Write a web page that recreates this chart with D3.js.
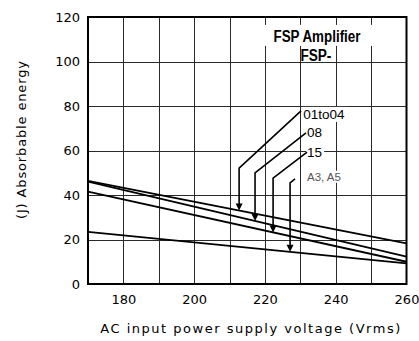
<!DOCTYPE html>
<html lang="en">
<head>
<meta charset="utf-8">
<title>Absorbable energy vs AC input voltage</title>
<script src="https://d3js.org/d3.v7.min.js"></script>
<style>
body { margin: 0; background: #fff; }
</style>
</head>
<body>
<script>
// data
const voltages = [170, 260];
const seriesNames = ['01to04', '08', '15', 'A3, A5'];
const energy0104 = [46.4, 18.3];
const energy08 = [46.0, 12.3];
const energy15 = [41.5, 10.0];
const energyA3A5 = [23.4, 9.3];
const xTickLabels = [180, 200, 220, 240, 260];
const yTickLabels = [0, 20, 40, 60, 80, 100, 120];
// annotation arrows, in volts / joules
const arrowStart = [[230.2, 77.8], [231.6, 67.9], [231.9, 59.3], [228.5, 47.2]];
const arrowKnee = [[212.7, 52.1], [217.2, 49.9], [222.3, 47.6], [227.1, 45.4]];
const labelAt = [[230.8, 74.2], [231.9, 65.9], [231.9, 56.9], [231.9, 46.4]];

const allEnergy = [energy0104, energy08, energy15, energyA3A5];

const width = 419, height = 341;
const plotLeft = 88, plotRight = 406.5, plotTop = 17, plotBottom = 284;

const x = d3.scaleLinear().domain([170, 260]).range([plotLeft, plotRight]);
const y = d3.scaleLinear().domain([0, 120]).range([plotBottom, plotTop]);

const svg = d3.select('body').append('svg')
    .attr('width', width).attr('height', height)
    .style('font-family', 'DejaVu Sans, sans-serif');

svg.append('rect').attr('width', width).attr('height', height).attr('fill', '#fff');

// grid lines every 10 V and 20 J
const gridX = d3.axisBottom(x).tickValues(d3.range(180, 260, 10))
    .tickSize(-(plotBottom - plotTop)).tickFormat('');
svg.append('g').attr('transform', `translate(0,${plotBottom})`).call(gridX)
    .call(g => g.select('.domain').remove())
    .selectAll('line').attr('stroke', '#2a2a2a').attr('shape-rendering', 'crispEdges');

const gridY = d3.axisLeft(y).tickValues(d3.range(20, 120, 20))
    .tickSize(-(plotRight - plotLeft)).tickFormat('');
svg.append('g').attr('transform', `translate(${plotLeft},0)`).call(gridY)
    .call(g => g.select('.domain').remove())
    .selectAll('line').attr('stroke', '#2a2a2a').attr('shape-rendering', 'crispEdges');

// tick labels
const xAxis = d3.axisBottom(x).tickValues(xTickLabels).tickSize(0).tickPadding(11);
svg.append('g').attr('transform', `translate(0,${plotBottom})`).call(xAxis)
    .call(g => g.select('.domain').remove())
    .selectAll('text').attr('font-size', 13).attr('font-family', 'DejaVu Sans').attr('fill', '#000');

const yAxis = d3.axisLeft(y).tickValues(yTickLabels).tickSize(0).tickPadding(8);
svg.append('g').attr('transform', `translate(${plotLeft},0)`).call(yAxis)
    .call(g => g.select('.domain').remove())
    .selectAll('text').attr('font-size', 13).attr('font-family', 'DejaVu Sans').attr('fill', '#000');

// the four curves
const line = d3.line().x(d => x(d[0])).y(d => y(d[1]));
svg.append('g').selectAll('path')
    .data(allEnergy)
    .enter().append('path')
    .attr('d', d => line(voltages.map((v, i) => [v, d[i]])))
    .attr('fill', 'none').attr('stroke', '#000').attr('stroke-width', 1.8);

// frame
svg.append('rect')
    .attr('x', plotLeft).attr('y', plotTop)
    .attr('width', plotRight - plotLeft).attr('height', plotBottom - plotTop)
    .attr('fill', 'none').attr('stroke', '#000').attr('stroke-width', 2);

// legend title (condensed bold)
const title1 = svg.append('text')
    .attr('x', x(234.7)).attr('y', y(108.8))
    .attr('text-anchor', 'middle')
    .attr('font-family', 'Liberation Sans, Arial, sans-serif')
    .attr('font-weight', 'bold').attr('font-size', 16)
    .attr('textLength', 87).attr('lengthAdjust', 'spacingAndGlyphs')
    .text('FSP Amplifier');
const bb = title1.node().getBBox();
svg.insert('rect', () => title1.node())
    .attr('x', bb.x - 12).attr('y', bb.y - 3)
    .attr('width', bb.width + 26).attr('height', bb.height + 4)
    .attr('fill', '#fff');
svg.append('text')
    .attr('x', x(234.4)).attr('y', y(100.2))
    .attr('text-anchor', 'middle')
    .attr('font-family', 'Liberation Sans, Arial, sans-serif')
    .attr('font-weight', 'bold').attr('font-size', 16)
    .attr('textLength', 31).attr('lengthAdjust', 'spacingAndGlyphs')
    .text('FSP-');

// arrow value on its curve at the knee voltage
function valueAt(e, v) {
    return e[0] + (e[1] - e[0]) * (v - voltages[0]) / (voltages[1] - voltages[0]);
}

const ann = svg.append('g');
seriesNames.forEach((name, i) => {
    const isGray = i === 3;
    const lbl = ann.append('text')
        .attr('x', x(labelAt[i][0])).attr('y', y(labelAt[i][1]))
        .attr('font-family', 'Liberation Sans, Arial, sans-serif')
        .attr('font-size', isGray ? 11.5 : 13.5)
        .attr('fill', isGray ? '#555' : '#000')
        .text(name);
    const b = lbl.node().getBBox();
    ann.insert('rect', () => lbl.node())
        .attr('x', b.x - 1).attr('y', b.y)
        .attr('width', b.width + 3).attr('height', b.height)
        .attr('fill', '#fff');

    const tipV = arrowKnee[i][0];
    const tipY = y(valueAt(allEnergy[i], tipV));
    const kx = x(arrowKnee[i][0]), ky = y(arrowKnee[i][1]);
    ann.append('path')
        .attr('d', `M${x(arrowStart[i][0])},${y(arrowStart[i][1])}L${kx},${ky}L${kx},${tipY - 5}`)
        .attr('fill', 'none').attr('stroke', '#000').attr('stroke-width', 1.6);
    ann.append('path')
        .attr('d', `M${kx - 3.5},${tipY - 7}L${kx + 3.5},${tipY - 7}L${kx},${tipY}Z`)
        .attr('fill', '#000');
});

// axis titles
svg.append('text')
    .attr('x', (plotLeft + plotRight) / 2 + 3).attr('y', 333)
    .attr('text-anchor', 'middle')
    .attr('font-size', 13)
    .attr('textLength', 300).attr('lengthAdjust', 'spacing')
    .text('AC input power supply voltage (Vrms)');

svg.append('text')
    .attr('transform', 'rotate(-90)')
    .attr('x', -140).attr('y', 26)
    .attr('text-anchor', 'middle')
    .attr('font-size', 13)
    .attr('textLength', 158).attr('lengthAdjust', 'spacing')
    .text('(J) Absorbable energy');
</script>
</body>
</html>
